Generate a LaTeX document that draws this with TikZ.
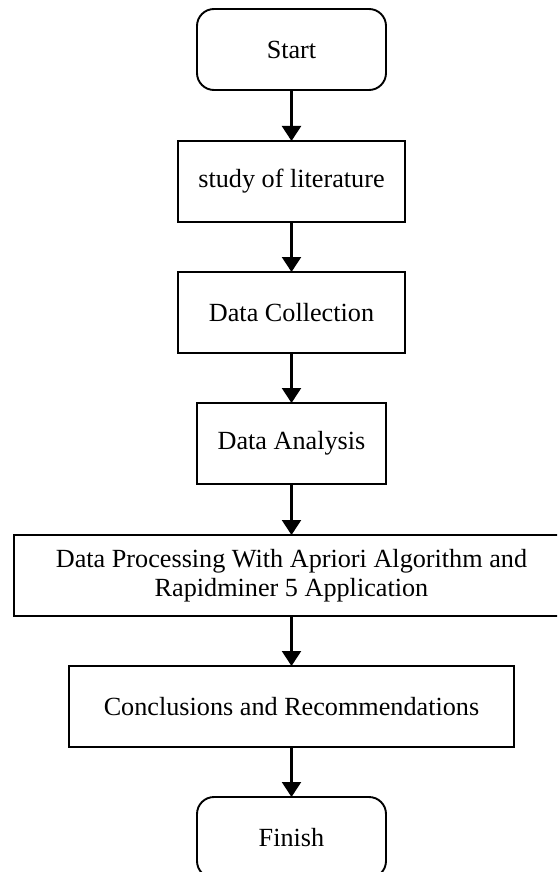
\documentclass[tikz,border=0pt]{standalone}
\usepackage{fontspec}
\setmainfont{Liberation Serif}
\usetikzlibrary{arrows.meta}
\begin{document}
\begin{tikzpicture}[x=1pt,y=-1pt,
  stepbox/.style={draw, line width=1.9pt, minimum height=81pt, inner sep=0pt,
    outer sep=0pt, align=center, font=\fontsize{26.2}{29}\selectfont},
  term/.style={stepbox, rounded corners=17pt},
  flow/.style={line width=2.3pt, -{Triangle[width=19pt,length=15pt]}}]
\useasboundingbox (0,0) rectangle (557,872);
\clip (0,0) rectangle (557,872);
% flow chart steps, top to bottom
\node[term, minimum width=189pt] (start) at (291.5,49.5) {Start};
\node[stepbox, minimum width=227pt] (study) at (291.5,181.5) {study of literature};
\node[stepbox, minimum width=227pt] (collect) at (291.5,312.5) {Data Collection};
\node[stepbox, minimum width=189pt] (analysis) at (291.5,443.5) {Data Analysis};
\node[stepbox, minimum width=555pt] (process) at (291.5,575.5)
  {Data Processing With Apriori Algorithm and\\Rapidminer 5 Application};
\node[stepbox, minimum width=445pt] (concl) at (291.5,706.5) {Conclusions and Recommendations};
\node[term, minimum width=189pt] (finish) at (291.5,837.5) {Finish};
% connectors
\draw[flow] (start) -- (study);
\draw[flow] (study) -- (collect);
\draw[flow] (collect) -- (analysis);
\draw[flow] (analysis) -- (process);
\draw[flow] (process) -- (concl);
\draw[flow] (concl) -- (finish);
\end{tikzpicture}
\end{document}
